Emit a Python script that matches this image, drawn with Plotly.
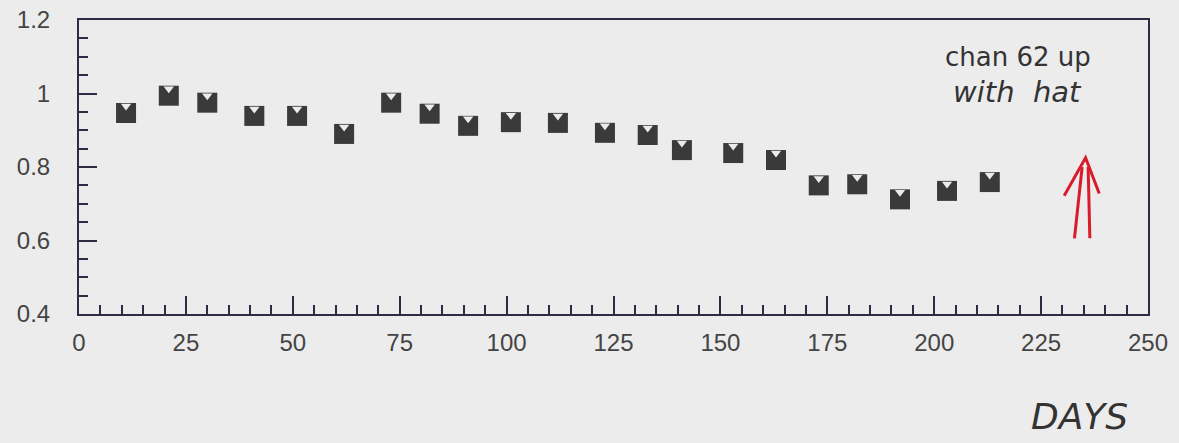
import plotly.graph_objects as go

days = [11, 21, 30, 41, 51, 62, 73, 82, 91, 101, 112, 123, 133, 141, 153, 163, 173, 182, 192, 203, 213]
ratio = [0.947, 0.994, 0.975, 0.939, 0.939, 0.890, 0.975, 0.945, 0.912, 0.922, 0.920,
         0.893, 0.887, 0.846, 0.838, 0.819, 0.750, 0.753, 0.712, 0.735, 0.759]
x_ticks = [0, 25, 50, 75, 100, 125, 150, 175, 200, 225, 250]
y_ticks = [0.4, 0.6, 0.8, 1.0, 1.2]
y_tick_text = ["0.4", "0.6", "0.8", "1", "1.2"]

BG = "#ececec"
INK = "#3a3a3a"
AX = "#2c2c44"

fig = go.Figure()
fig.add_trace(go.Scatter(
    x=days, y=ratio, mode="markers",
    marker=dict(symbol="square", size=20, color=INK, line=dict(width=0)),
    showlegend=False, hoverinfo="x+y",
))
# notch on top of each marker (background-coloured small triangle)
fig.add_trace(go.Scatter(
    x=days, y=ratio, mode="markers",
    marker=dict(symbol="triangle-up", size=9, color=BG, line=dict(width=0),
                angle=180, standoff=7),
    showlegend=False, hoverinfo="skip",
))

tickfont = dict(family="Liberation Sans, Arial, sans-serif", size=24, color="#444444")

fig.update_xaxes(
    range=[0, 250], tickvals=x_ticks, ticks="inside", ticklen=18, tickwidth=1.5,
    tickcolor=AX, showline=True, linecolor=AX, linewidth=2, mirror=True,
    showgrid=False, zeroline=False, tickfont=tickfont, ticklabelstandoff=6, automargin=False,
    minor=dict(dtick=5, ticks="inside", ticklen=9, tickwidth=1.5, tickcolor=AX, showgrid=False),
)
fig.update_yaxes(
    range=[0.4, 1.2], tickvals=y_ticks, ticktext=y_tick_text, ticks="inside", ticklen=18,
    tickwidth=1.5, tickcolor=AX, showline=True, linecolor=AX, linewidth=2, mirror=True,
    showgrid=False, zeroline=False, tickfont=tickfont, ticklabelstandoff=22, automargin=False,
    minor=dict(dtick=0.05, ticks="inside", ticklen=9, tickwidth=1.5, tickcolor=AX, showgrid=False),
)

# red double-line arrow (hand-drawn annotation)
RED = "#d81c2c"
arrow_shapes = [
    dict(type="line", x0=232.8, y0=0.606, x1=234.6, y1=0.800),
    dict(type="line", x0=236.4, y0=0.606, x1=236.0, y1=0.800),
    dict(type="path", path="M 230.4 0.722 L 235.4 0.825 L 238.6 0.728"),
]
for s in arrow_shapes:
    s.update(xref="x", yref="y", line=dict(color=RED, width=3))
    fig.add_shape(**s)

fig.add_annotation(x=0.878, y=0.874, xref="paper", yref="paper", text="chan 62 up",
                   showarrow=False, yanchor="middle", xanchor="center",
                   font=dict(family="DejaVu Sans", size=26, color="#333333"))
fig.add_annotation(x=0.878, y=0.755, xref="paper", yref="paper", text="<i>with  hat</i>",
                   showarrow=False, yanchor="middle", xanchor="center",
                   font=dict(family="DejaVu Sans", size=29, color="#333333"))
fig.add_annotation(x=0.936, y=-0.347, xref="paper", yref="paper", text="<i>DAYS</i>",
                   showarrow=False, yanchor="middle", xanchor="center", borderpad=0,
                   font=dict(family="DejaVu Sans", size=36, color="#333333"))

fig.update_layout(
    width=1179, height=443,
    margin=dict(l=79, r=31, t=20, b=129),
    paper_bgcolor=BG, plot_bgcolor=BG,
)

fig.write_html("out.html", config={"displayModeBar": False},
               post_script="document.body.style.margin='0';document.body.style.background='%s';" % BG)
